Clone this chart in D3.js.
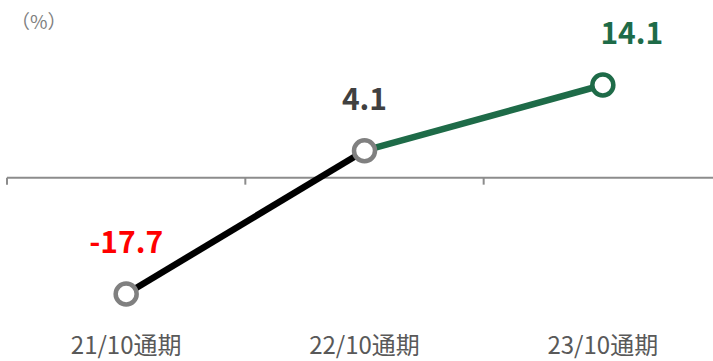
<!DOCTYPE html>
<html><head><meta charset="utf-8">
<script src="https://cdn.jsdelivr.net/npm/d3@7"></script>
<style>body{margin:0;background:#fff;}svg{display:block;}</style>
</head><body>
<svg id="c" width="713" height="361"></svg>
<script>
const categories = ["21/10通期", "22/10通期", "23/10通期"];
const values = [-17.7, 4.1, 14.1];
const labels = ["-17.7", "4.1", "14.1"];
const labelColors = ["#ff0000", "#404040", "#1e6b48"];
const segColors = ["#000000", "#1e6b48"];
const markerColors = ["#808080", "#808080", "#1e6b48"];
const unitLabel = "（%）";

const svg = d3.select("#c");
const x = d3.scaleBand().domain(categories).range([7, 722]);
const y = d3.scaleLinear().domain([-17.7, 14.1]).range([294, 85]);
const font = "'Noto Sans CJK JP','Noto Sans',sans-serif";

// axis line at zero
svg.append("line").attr("x1", 7).attr("x2", 713).attr("y1", y(0)).attr("y2", y(0))
  .attr("stroke", "#8c8c8c").attr("stroke-width", 2);
const tickXs = categories.map(c => x(c)).concat([x.range()[1]]);
svg.selectAll(".tk").data(tickXs).enter().append("line")
  .attr("x1", d => d).attr("x2", d => d).attr("y1", y(0)).attr("y2", y(0) + 7)
  .attr("stroke", "#8c8c8c").attr("stroke-width", 2);

const cx = c => x(c) + x.bandwidth() / 2;
// segments
for (let i = 0; i < values.length - 1; i++) {
  svg.append("line")
    .attr("x1", cx(categories[i])).attr("y1", y(values[i]))
    .attr("x2", cx(categories[i + 1])).attr("y2", y(values[i + 1]))
    .attr("stroke", segColors[i]).attr("stroke-width", 6.5);
}
// markers
svg.selectAll(".m").data(values).enter().append("circle")
  .attr("cx", (d, i) => cx(categories[i])).attr("cy", d => y(d)).attr("r", 10.5)
  .attr("fill", "#fff").attr("stroke", (d, i) => markerColors[i]).attr("stroke-width", 4.5);

// value labels
const labelDx = [0, 0, 29];
svg.selectAll(".vl").data(values).enter().append("text")
  .attr("x", (d, i) => cx(categories[i]) + labelDx[i])
  .attr("y", d => y(d) - 41)
  .attr("text-anchor", "middle").attr("font-family", font).attr("font-weight", "bold")
  .attr("font-size", 30).attr("fill", (d, i) => labelColors[i])
  .text((d, i) => labels[i]);

// category labels
svg.selectAll(".cl").data(categories).enter().append("text")
  .attr("x", d => cx(d)).attr("y", 354).attr("text-anchor", "middle")
  .attr("font-family", font).attr("font-size", 24).attr("fill", "#595959").text(d => d);

svg.append("text").attr("x", 11).attr("y", 29).attr("font-family", font)
  .attr("font-size", 19).attr("fill", "#808080").text(unitLabel);
</script>
</body></html>
